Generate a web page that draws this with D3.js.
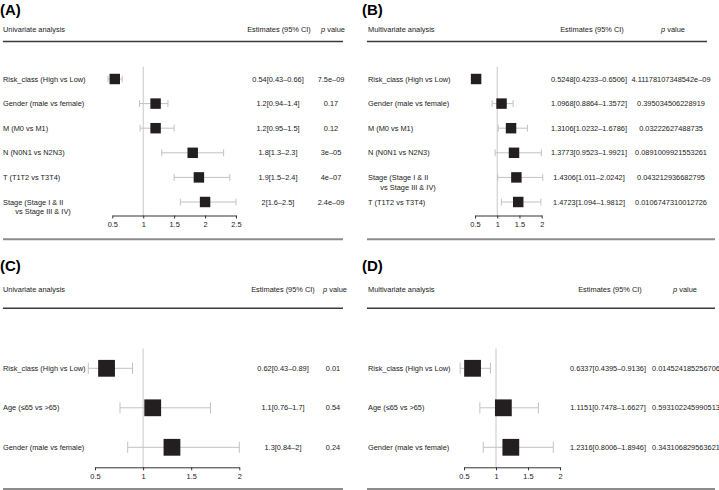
<!DOCTYPE html>
<html><head><meta charset="utf-8">
<script src="https://cdn.jsdelivr.net/npm/d3@7"></script>
<style>body{margin:0;background:#fff}svg{display:block}text{font-family:"Liberation Sans",Arial,sans-serif}</style>
</head><body><svg id="c" width="719" height="490"></svg>
<script>
// Panel A: univariate
const labelsA = ["Risk_class (High vs Low)","Gender (male vs female)","M (M0 vs M1)","N (N0N1 vs N2N3)","T (T1T2 vs T3T4)","Stage (Stage I & II\n      vs Stage III & IV)"];
const estA = [0.54,1.2,1.2,1.8,1.9,2];
const loA = [0.43,0.94,0.95,1.3,1.5,1.6];
const hiA = [0.66,1.4,1.5,2.3,2.4,2.5];
const pA = ["7.5e–09","0.17","0.12","3e–05","4e–07","2.4e–09"];
const ticksA = [0.5,1,1.5,2,2.5];
// Panel B: multivariate
const labelsB = ["Risk_class (High vs Low)","Gender (male vs female)","M (M0 vs M1)","N (N0N1 vs N2N3)","Stage (Stage I & II\n      vs Stage III & IV)","T (T1T2 vs T3T4)"];
const estB = [0.5248,1.0968,1.3106,1.3773,1.4306,1.4723];
const loB = [0.4233,0.8864,1.0232,0.9523,1.011,1.094];
const hiB = [0.6506,1.3572,1.6786,1.9921,2.0242,1.9812];
const pB = ["4.11178107348542e–09","0.395034506228919","0.03222627488735","0.0891009921553261","0.043212936682795","0.0106747310012726"];
const ticksB = [0.5,1,1.5,2];
// Panel C: univariate
const labelsC = ["Risk_class (High vs Low)","Age (≤65 vs >65)","Gender (male vs female)"];
const estC = [0.62,1.1,1.3];
const loC = [0.43,0.76,0.84];
const hiC = [0.89,1.7,2];
const pC = ["0.01","0.54","0.24"];
const ticksC = [0.5,1,1.5,2];
// Panel D: multivariate
const labelsD = ["Risk_class (High vs Low)","Age (≤65 vs >65)","Gender (male vs female)"];
const estD = [0.6337,1.1151,1.2316];
const loD = [0.4395,0.7478,0.8006];
const hiD = [0.9136,1.6627,1.8946];
const pD = ["0.014524185256706","0.593102245990513","0.343106829563621"];
const ticksD = [0.5,1,1.5,2];

const svg = d3.select("#c");
const FS = 7.4;
const txt = "#1a1a1a";

function panel(cfg){
  const g = svg.append("g");
  const x = d3.scaleLinear().domain([cfg.ticks[0], cfg.ticks[cfg.ticks.length-1]]).range(cfg.xr);
  g.append("text").attr("x",cfg.tx).attr("y",cfg.ty).attr("font-size",15).attr("font-weight","bold").attr("fill","#000").text(cfg.title);
  g.append("text").attr("x",cfg.lx).attr("y",cfg.hy).attr("dy","0.35em").attr("font-size",FS).attr("fill",txt).text(cfg.head);
  g.append("text").attr("x",cfg.hEst).attr("y",cfg.hy).attr("dy","0.35em").attr("text-anchor","middle").attr("font-size",FS).attr("fill",txt).text("Estimates (95% CI)");
  const pt = g.append("text").attr("x",cfg.hP).attr("y",cfg.hy).attr("dy","0.35em").attr("text-anchor","middle").attr("font-size",FS).attr("fill",txt);
  pt.append("tspan").attr("font-style","italic").text("p");
  pt.append("tspan").text(" value");
  g.append("line").attr("x1",cfg.l0).attr("x2",cfg.l1).attr("y1",cfg.hl).attr("y2",cfg.hl).attr("stroke","#3a3a3a").attr("stroke-width",1.4);
  g.append("line").attr("x1",cfg.l0).attr("x2",cfg.b1).attr("y1",cfg.bl).attr("y2",cfg.bl).attr("stroke","#8c8c8c").attr("stroke-width",2);
  const n = cfg.labels.length;
  const y = d3.scalePoint().domain(d3.range(n)).range([cfg.r0, cfg.r0 + cfg.step*(n-1)]);
  // reference line
  g.append("line").attr("x1",x(1)).attr("x2",x(1)).attr("y1",cfg.r0-cfg.step/2).attr("y2",cfg.ay).attr("stroke","#c8c8c8").attr("stroke-width",1);
  const rows = g.selectAll("g.row").data(d3.range(n)).join("g").attr("class","row");
  // labels
  rows.each(function(i){
    const t = d3.select(this).append("text").attr("x",cfg.lx).attr("y",y(i)).attr("dy","0.35em").attr("font-size",FS).attr("fill",txt).attr("xml:space","preserve").style("white-space","pre");
    cfg.labels[i].split("\n").forEach((s,k)=>{
      t.append("tspan").attr("x",cfg.lx).attr("dy",k===0?"0.35em":"1.3em").text(s);
    });
    t.attr("dy",null);
  });
  // CI
  const cap = cfg.step*0.28, box = cfg.step*0.425;
  rows.filter(i=>!(cfg.hideOut && cfg.lo[i] < x.domain()[0])).each(function(i){
    const r = d3.select(this);
    const c = "#c2c2c2";
    r.append("line").attr("x1",x(cfg.lo[i])).attr("x2",x(cfg.hi[i])).attr("y1",y(i)).attr("y2",y(i)).attr("stroke",c).attr("stroke-width",1);
    [cfg.lo[i],cfg.hi[i]].forEach(v=>{
      r.append("line").attr("x1",x(v)).attr("x2",x(v)).attr("y1",y(i)-cap/2).attr("y2",y(i)+cap/2).attr("stroke",c).attr("stroke-width",1);
    });
  });
  rows.append("rect").attr("x",i=>x(cfg.est[i])-box/2).attr("y",i=>y(i)-box/2).attr("width",box).attr("height",box).attr("fill","#231f20");
  rows.append("text").attr("x",cfg.cEst).attr("y",i=>y(i)).attr("dy","0.35em").attr("text-anchor","middle").attr("font-size",FS).attr("fill",txt)
    .text(i=>String(cfg.est[i])+"["+String(cfg.lo[i])+"–"+String(cfg.hi[i])+"]");
  rows.append("text").attr("x",cfg.cP).attr("y",i=>y(i)).attr("dy","0.35em").attr("text-anchor","middle").attr("font-size",FS).attr("fill",txt)
    .text(i=>cfg.p[i]);
  // axis
  const ax = g.append("g").attr("transform",`translate(0,${cfg.ay})`)
    .call(d3.axisBottom(x).tickValues(cfg.ticks).tickSize(3).tickSizeOuter(0).tickPadding(3).tickFormat(d=>String(d)));
  ax.select(".domain").attr("stroke","#333").attr("stroke-width",1);
  ax.selectAll(".tick line").attr("stroke","#333");
  ax.selectAll(".tick text").attr("font-size",FS).attr("fill",txt).attr("font-family","Liberation Sans, Arial, sans-serif");
}

panel({title:"(A)",tx:0,ty:15,head:"Univariate analysis",lx:3,hy:29,hEst:279,hP:333,l0:3,l1:343,b1:343,hl:41.5,bl:239.3,
  r0:79,step:24.6,ay:215.5,xr:[112.3,236],ticks:ticksA,labels:labelsA,est:estA,lo:loA,hi:hiA,p:pA,cEst:278,cP:331});
panel({title:"(B)",tx:362,ty:15,head:"Multivariate analysis",lx:368,hy:29,hEst:592,hP:673,l0:367,l1:707,b1:715,hl:41.5,bl:239.3,
  r0:79,step:24.6,ay:215.5,xr:[475,541.7],ticks:ticksB,labels:labelsB,est:estB,lo:loB,hi:hiB,p:pB,cEst:589,cP:671,hideOut:true});
panel({title:"(C)",tx:0,ty:271,head:"Univariate analysis",lx:3,hy:289,hEst:283,hP:335,l0:3,l1:343,b1:343,hl:308.3,bl:489,
  r0:368.3,step:39.5,ay:467.3,xr:[95,239.3],ticks:ticksC,labels:labelsC,est:estC,lo:loC,hi:hiC,p:pC,cEst:283,cP:333});
panel({title:"(D)",tx:362,ty:271,head:"Multivariate analysis",lx:368,hy:289,hEst:610,hP:685,l0:367,l1:715,b1:715,hl:308.3,bl:489,
  r0:368.3,step:39.5,ay:467.3,xr:[464,560],ticks:ticksD,labels:labelsD,est:estD,lo:loD,hi:hiD,p:pD,cEst:608,cP:686});
</script></body></html>
